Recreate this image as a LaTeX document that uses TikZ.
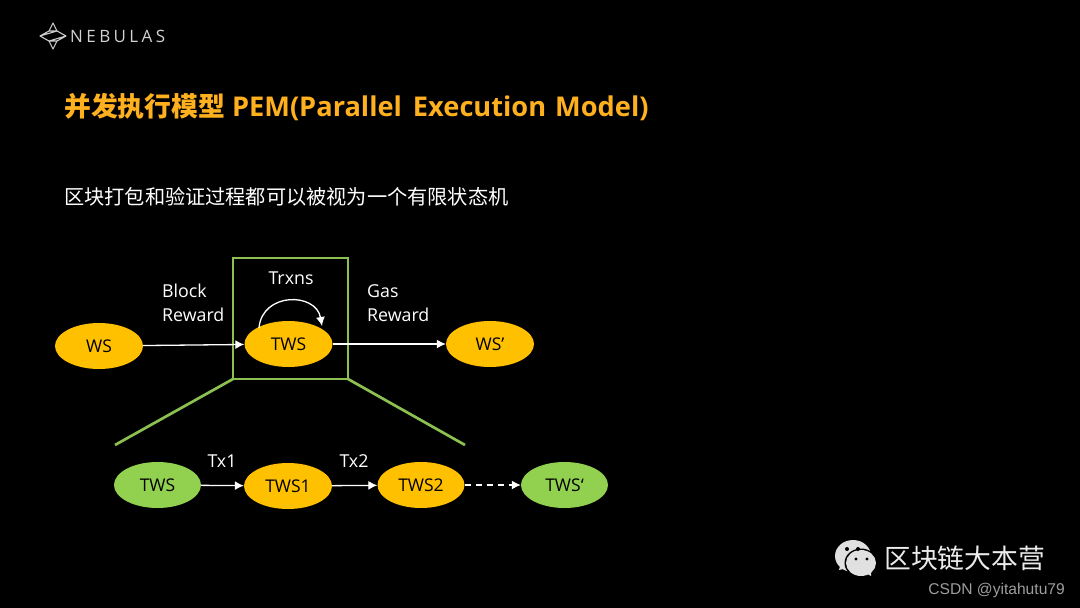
\documentclass[tikz,border=0pt]{standalone}
\usepackage{fontspec}
\setmainfont{Open Sans}
\newfontfamily\cjk{Noto Sans CJK SC}
\newfontfamily\cjkb{Noto Sans CJK SC Bold}
\newfontfamily\armo{Liberation Sans}
\newfontfamily\brandf[LetterSpace=20]{Open Sans}
\usetikzlibrary{arrows.meta,shapes.geometric}
\definecolor{amber}{HTML}{FFC000}
\definecolor{leaf}{HTML}{92D050}
\definecolor{frame}{HTML}{8CC152}
\definecolor{titlec}{HTML}{FFB01F}
\tikzset{
 x=1pt,y=-1pt,
 st/.style={ellipse,minimum width=88pt,minimum height=46pt,inner sep=0pt,text=black,font=\fontsize{17.5}{17.5}\selectfont},
 gold/.style={st,fill=amber},
 lime/.style={st,fill=leaf},
 flow/.style={draw=white,line width=1.3pt,-{Latex[length=9pt,width=9pt]}},
 lbl/.style={text=white,font=\fontsize{17.8}{21}\selectfont,inner sep=0pt},
 frameline/.style={draw=frame,line width=2.7pt},
}
\begin{document}
\begin{tikzpicture}
\useasboundingbox (0,0) rectangle (1080,608);
\fill[black] (0,0) rectangle (1080,608);
% logo
\draw[draw=white!80!black,line width=1.1pt,line join=round]
 (53,23) -- (57,31) -- (66,36) -- (57,41) -- (53,49) -- (49,41) -- (40,36) -- (49,31) -- cycle
 (49,31) -- (57,31) (49,41) -- (57,41) (40,36) -- (57,31) (66,36) -- (49,41);
\node[text=white!82!black,font=\brandf\fontsize{17}{17}\selectfont,anchor=west,inner sep=0pt] (brand) at (70,36.5) {NEBULAS};
% headings
\node[text=titlec,anchor=west,inner sep=0pt,font=\fontsize{27.2}{30}\selectfont\bfseries] (title) at (64,107)
 {{\cjkb\fontsize{26.8}{30}\selectfont 并发执行模型} PEM(Parallel\hspace{4pt} Execution\hspace{2pt} Model)};
\node[text=white,anchor=west,inner sep=0pt,font=\cjk\fontsize{20.2}{24}\selectfont] (sub) at (64,197) {区块打包和验证过程都可以被视为一个有限状态机};
% frame
\coordinate (f1) at (233,258);\coordinate (f2) at (348,258);\coordinate (f3) at (348,379);\coordinate (f4) at (233,379);
\coordinate (z1) at (115,445);\coordinate (z2) at (465,445);
\draw[frameline] (f1) -- (f2) -- (f3) -- (f4) -- cycle;
\draw[frameline] (f4) -- (z1);
\draw[frameline] (f3) -- (z2);
% nodes
\node[gold] (ws) at (99,346) {WS};
\node[gold] (tws) at (288.5,344) {TWS};
\node[gold] (wsp) at (490,344) {WS’};
\node[lime,minimum width=87pt] (a) at (157.5,485) {TWS};
\node[gold] (b) at (288,486) {TWS1};
\node[gold,minimum width=87pt] (c) at (421,485) {TWS2};
\node[lime,minimum width=87pt] (d) at (564.5,485) {TWS‘};
% connectors
\draw[flow] (ws) -- (tws);
\draw[flow] (tws) -- (wsp);
\draw[flow] (a) -- (b);
\draw[flow] (b) -- (c);
\draw[flow,dash pattern=on 6pt off 5pt] (c) -- (d);
\draw[flow] (259,328) .. controls (262,292) and (316,292) .. (322,326);
% labels
\node[lbl,anchor=west] (t1) at (162,291) {Block};
\node[lbl,anchor=west] (t2) at (162,315) {Reward};
\node[lbl] (t3) at (291,278) {Trxns};
\node[lbl,anchor=west] (t4) at (367,291) {Gas};
\node[lbl,anchor=west] (t5) at (367,315) {Reward};
\node[lbl] (t6) at (222,461) {Tx1};
\node[lbl] (t7) at (354,461) {Tx2};
% wechat
\fill[white!88!black] (853,556) ellipse (18pt and 16pt);
\fill[white!88!black] (840,566) -- (839,570) -- (847,568) -- cycle;
\fill[black] (861,563) ellipse (16.5pt and 14.5pt);
\fill[white!88!black] (861,563) ellipse (15pt and 13pt);
\fill[white!88!black] (866,573) -- (871,576) -- (871,570) -- cycle;
\fill[black] (847,549) circle (2pt) (858,549) circle (2pt) (856,559) circle (1.7pt) (867,559) circle (1.7pt);
\node[text=white!92!black,anchor=west,inner sep=0pt,font=\cjk\fontsize{26.8}{30}\selectfont] (wx) at (884,558) {区块链大本营};
\node[text=white!62!black,anchor=east,inner sep=0pt,font=\armo\fontsize{15.6}{16}\selectfont] (csdn) at (1065,590) {CSDN @yitahutu79};
\end{tikzpicture}
\end{document}
